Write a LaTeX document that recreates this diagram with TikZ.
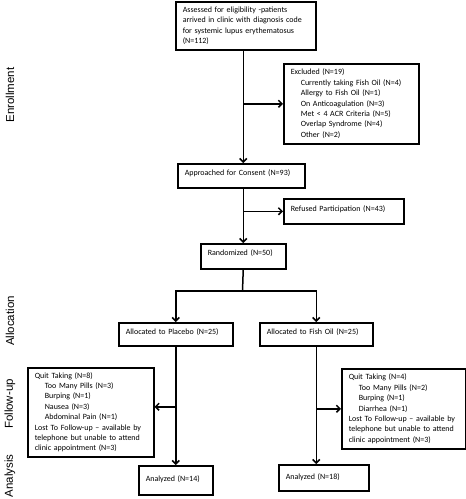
\documentclass[tikz,border=0pt]{standalone}
\usepackage{fontspec}
\usetikzlibrary{arrows.meta}
\newfontfamily\cbrfam{Carlito}
\newfontfamily\phasefam{Liberation Sans}
\newcommand{\boxfont}{\cbrfam\fontsize{8pt}{10.4pt}\selectfont}
\newcommand{\phasefont}{\phasefam\fontsize{11.5pt}{13pt}\selectfont}
\newcommand{\ind}{\hspace*{10pt}}
\tikzset{
  box/.style={draw, line width=1.5pt, anchor=north west, inner xsep=7pt, inner ysep=0pt, align=left, font=\boxfont},
  arr/.style={line width=1.5pt, -{Straight Barb[length=3.5pt,width=7pt]}},
  phase/.style={rotate=90, inner sep=0pt, font=\phasefont}
}

\begin{document}
\begin{tikzpicture}[x=1pt, y=-1pt]
    \useasboundingbox (0,0) rectangle (466,499);
    \node[box, text width=126pt, minimum height=48pt] (assess) at (175,1) {Assessed for eligibility -patients\\arrived in clinic with diagnosis code\\for systemic lupus erythematosus\\(N=112)};
    \node[box, text width=121pt, minimum height=80pt] (excl) at (283,63) {Excluded (N=19)\\\ind Currently taking Fish Oil (N=4)\\\ind Allergy to Fish Oil (N=1)\\\ind On Anticoagulation (N=3)\\\ind Met < 4 ACR Criteria (N=5)\\\ind Overlap Syndrome (N=4)\\\ind Other (N=2)};
    \node[box, text width=113pt, text height=11.5pt, text depth=12.5pt] (approach) at (177,163) {Approached for Consent (N=93)};
    \node[box, text width=106pt, text height=12.5pt, text depth=12.5pt] (refused) at (283,198) {Refused Participation (N=43)};
    \node[box, text width=71pt, text height=11.5pt, text depth=13.5pt] (rand) at (200,243) {Randomized (N=50)};
    \node[box, text width=100pt, text height=11.5pt, text depth=11.5pt] (placebo) at (118,322) {Allocated to Placebo (N=25)};
    \node[box, text width=99pt, text height=11.5pt, text depth=11.5pt] (fish) at (259,322) {Allocated to Fish Oil (N=25)};
    \node[box, text width=112pt, minimum height=89pt] (fuL) at (27,367) {Quit Taking (N=8)\\\ind Too Many Pills (N=3)\\\ind Burping (N=1)\\\ind Nausea (N=3)\\\ind Abdominal Pain (N=1)\\Lost To Follow-up \textendash{} available by\\telephone but unable to attend\\clinic appointment (N=3)};
    \node[box, text width=110pt, minimum height=80pt] (fuR) at (341,368) {Quit Taking (N=4)\\\ind Too Many Pills (N=2)\\\ind Burping (N=1)\\\ind Diarrhea (N=1)\\Lost To Follow-up \textendash{} available by\\telephone but unable to attend\\clinic appointment (N=3)};
    \node[box, text width=60pt, text height=15.5pt, text depth=13.5pt] (anaL) at (138,465) {Analyzed (N=14)};
    \node[box, text width=76pt, text height=14.5pt, text depth=11.5pt] (anaR) at (278,464) {Analyzed (N=18)};

    \node[phase] (enroll) at (10,95) {Enrollment};
    \node[phase] (alloc) at (10,321) {Allocation};
    \node[phase] (follow) at (10,404) {Follow-up};
    \node[phase] (analysis) at (10,476) {Analysis};

    \draw[arr] (rand.north |- assess.south) -- (rand.north |- approach.north);
    \draw[arr] (rand.north |- excl.west) -- (excl.west);
    \draw[arr] (rand.north |- approach.south) -- (rand.north);
    \draw[arr] (rand.north |- refused.west) -- (refused.west);
    \coordinate (split) at (242.5,291);
    \draw[line width=1.5pt] (rand.south) -- (split);
    \draw[arr] (split) -| (placebo.north);
    \draw[arr] (split) -| (fish.north);
    \draw[arr] (placebo.south) -- (anaL.north);
    \draw[arr] ([yshift=5.5pt]placebo.south |- fuL.east) -- ([yshift=5.5pt]fuL.east);
    \draw[arr] (fish.south) -- (fish.south |- anaR.north);
    \draw[arr] (fish.south |- fuR.west) -- (fuR.west);
  \end{tikzpicture}
\end{document}
